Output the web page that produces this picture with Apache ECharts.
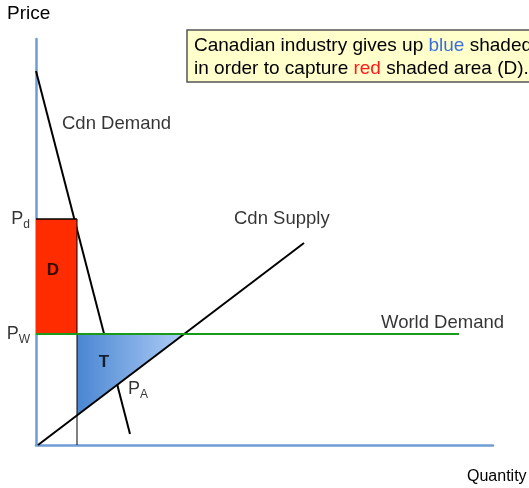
<!DOCTYPE html>
<html>
<head>
<meta charset="utf-8">
<script src="https://cdn.jsdelivr.net/npm/echarts@6/dist/echarts.min.js"></script>
<style>
  html, body { margin: 0; padding: 0; background: #fff; }
  #chart { width: 529px; height: 488px; }
</style>
</head>
<body>
<div id="chart"></div>
<script>
// axis ranges (quantity, price)
const qMax = 457;
const pMax = 406;

// curves
const cdnDemand = [[0, 374], [94, 11]];
const cdnSupply = [[2, 0], [268, 202]];
const worldPrice = 111;
const worldDemandEnd = 423;
const domesticPrice = 226;
const quotaQty = 41;

// shaded areas
const redArea = [[0, worldPrice], [quotaQty, worldPrice], [quotaQty, domesticPrice], [0, domesticPrice]];
const blueArea = [[quotaQty, worldPrice], [148, worldPrice], [quotaQty, 30]];

// annotations: [q, p, text]
const notes = [
  [26, 321, "Cdn Demand"],
  [198, 226, "Cdn Supply"],
  [345, 122, "World Demand"]
];

const font = "Liberation Sans, Arial, sans-serif";
const chart = echarts.init(document.getElementById("chart"));

function polygon(points, fill, z) {
  return {
    type: "custom",
    z: z,
    silent: true,
    data: [[0, 0]],
    renderItem: (params, api) => ({
      type: "polygon",
      shape: { points: points.map((p) => api.coord(p)) },
      style: { fill: fill }
    })
  };
}

function line(points, color, width, z) {
  return {
    type: "line",
    z: z,
    silent: true,
    symbol: "none",
    data: points,
    lineStyle: { color: color, width: width }
  };
}

const blueFill = new echarts.graphic.LinearGradient(0, 0, 1, 0, [
  { offset: 0, color: "#4a86d2" },
  { offset: 1, color: "#aecdf6" }
]);

function sub(small) {
  return {
    show: true, position: "left", distance: 6,
    formatter: "{p|P}{s|" + small + "}",
    rich: {
      p: { fontSize: 18, color: "#000", fontFamily: font },
      s: { fontSize: 12, color: "#000", fontFamily: font, padding: [11, 0, 0, 0] }
    }
  };
}

chart.setOption({
  animation: false,
  grid: { left: 36, top: 39, right: 36, bottom: 43 },
  xAxis: {
    type: "value", min: 0, max: qMax,
    axisLine: { show: true, lineStyle: { color: "#6d9dd4", width: 2.5 } },
    axisTick: { show: false }, axisLabel: { show: false }, splitLine: { show: false }
  },
  yAxis: {
    type: "value", min: 0, max: pMax,
    axisLine: { show: true, lineStyle: { color: "#6d9dd4", width: 2.5 } },
    axisTick: { show: false }, axisLabel: { show: false }, splitLine: { show: false }
  },
  series: [
    line(cdnDemand, "#000", 2, 2),
    polygon(redArea, "#ff2c00", 3),
    polygon(blueArea, blueFill, 3),
    line(cdnSupply, "#000", 2, 4),
    line([[0, domesticPrice], [quotaQty, domesticPrice]], "#000", 1.5, 4),
    line([[quotaQty, domesticPrice], [quotaQty, 0]], "#000", 1, 4),
    line([[0, worldPrice], [worldDemandEnd, worldPrice]], "#1a9a1a", 2, 5),
    {
      type: "scatter",
      z: 6,
      silent: true,
      symbolSize: 0,
      data: notes.map((n) => ({
        value: [n[0], n[1]],
        label: {
          show: true, position: "right", distance: 0,
          formatter: n[2], color: "#000", fontSize: 18.5, fontFamily: font
        }
      })).concat([
        {
          value: [17, 175],
          label: { show: true, position: "inside", formatter: "D", color: "#000", fontSize: 17, fontWeight: "bold", fontFamily: font }
        },
        {
          value: [68, 83],
          label: { show: true, position: "inside", formatter: "T", color: "#000", fontSize: 17, fontWeight: "bold", fontFamily: font }
        },
        { value: [92, 56], label: Object.assign(sub("A"), { position: "right", distance: 0 }) },
        { value: [0, domesticPrice], label: sub("d") },
        { value: [0, worldPrice], label: sub("W") }
      ])
    }
  ],
  graphic: [
    {
      type: "text", left: 7, top: 4,
      style: { text: "Price", fontSize: 19, fill: "#000", fontFamily: font }
    },
    {
      type: "text", left: 467, top: 469,
      style: { text: "Quantity", fontSize: 16, fill: "#000", fontFamily: font }
    },
    {
      type: "rect", z: 10,
      shape: { x: 187, y: 30, width: 360, height: 52 },
      style: { fill: "#ffffcc", stroke: "#555", lineWidth: 1.5 }
    },
    {
      type: "text", z: 11, x: 194, y: 34,
      style: {
        text: "Canadian industry gives up {b|blue} shaded area (T)\nin order to capture {r|red} shaded area (D).",
        fontSize: 19, fill: "#000", fontFamily: font, lineHeight: 23,
        rich: {
          b: { fontSize: 19, fill: "#3b6fe0", fontFamily: font },
          r: { fontSize: 19, fill: "#ff1a1a", fontFamily: font }
        }
      }
    }
  ]
});
</script>
</body>
</html>
